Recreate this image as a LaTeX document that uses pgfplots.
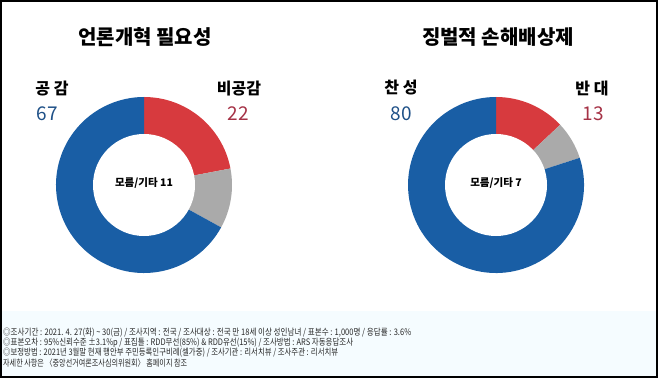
\documentclass[border=0pt]{standalone}
\usepackage{pgfplots}
\usepackage{pgfplotstable}
\pgfplotsset{compat=1.18}
\usepackage{graphicx}
\usepackage{fontspec}
\setmainfont{Noto Sans CJK KR}
\newfontfamily\footfont[FakeStretch=0.84]{Noto Sans CJK KR}

\definecolor{cblue}{RGB}{25,94,165}
\definecolor{cred}{RGB}{215,58,62}
\definecolor{cgray}{RGB}{170,170,170}
\definecolor{numblue}{RGB}{30,80,135}
\definecolor{numred}{RGB}{165,50,70}
\definecolor{footbg}{RGB}{245,252,255}
\definecolor{foottext}{RGB}{40,40,40}

% Data: 언론개혁 필요성
\pgfplotstableread{
label value
agree 67
disagree 22
other 11
}\tableA
% Data: 징벌적 손해배상제
\pgfplotstableread{
label value
agree 80
disagree 13
other 7
}\tableB

\pgfplotstablegetelem{1}{value}\of\tableA \edef\Ared{\pgfplotsretval}
\pgfplotstablegetelem{2}{value}\of\tableA \edef\Agray{\pgfplotsretval}
\pgfplotstablegetelem{1}{value}\of\tableB \edef\Bred{\pgfplotsretval}
\pgfplotstablegetelem{2}{value}\of\tableB \edef\Bgray{\pgfplotsretval}
\pgfmathsetmacro\Aa{90-3.6*\Ared}
\pgfmathsetmacro\Ab{\Aa-3.6*\Agray}
\pgfmathsetmacro\Ba{90-3.6*\Bred}
\pgfmathsetmacro\Bb{\Ba-3.6*\Bgray}

\newcommand\titlef{\fontsize{20bp}{24bp}\selectfont\bfseries}
\newcommand\labf{\fontsize{16bp}{19bp}\selectfont\bfseries}
\newcommand\numf{\fontsize{19bp}{22bp}\selectfont}
\newcommand\cenf{\fontsize{10.5bp}{12bp}\selectfont\bfseries}
\newcommand\footf{\footfont\fontsize{9bp}{10bp}\selectfont}

\pgfplotsset{donut/.style={anchor=center, scale only axis,
  width=176bp, height=176bp, xmin=-88, xmax=88, ymin=-88, ymax=88,
  hide axis, clip=false}}

\begin{document}
\begin{tikzpicture}
\begin{scope}[x=1bp,y=1bp]
\useasboundingbox (0,0) rectangle (658,378);
\fill[footbg] (1,1) rectangle (657,67);
\end{scope}

\begin{axis}[donut, at={(144bp,193bp)}]
  \fill[cred] (axis cs:0,0) -- ++(90:88bp) arc[start angle=90, end angle=\Aa, radius=88bp] -- cycle;
  \fill[cgray] (axis cs:0,0) -- ++(\Aa:88bp) arc[start angle=\Aa, end angle=\Ab, radius=88bp] -- cycle;
  \fill[cblue] (axis cs:0,0) -- ++(\Ab:88bp) arc[start angle=\Ab, end angle=-270, radius=88bp] -- cycle;
  \fill[white] (axis cs:0,0) circle[radius=51bp];
\end{axis}

\begin{axis}[donut, at={(496bp,193bp)}]
  \fill[cred] (axis cs:0,0) -- ++(90:88bp) arc[start angle=90, end angle=\Ba, radius=88bp] -- cycle;
  \fill[cgray] (axis cs:0,0) -- ++(\Ba:88bp) arc[start angle=\Ba, end angle=\Bb, radius=88bp] -- cycle;
  \fill[cblue] (axis cs:0,0) -- ++(\Bb:88bp) arc[start angle=\Bb, end angle=-270, radius=88bp] -- cycle;
  \fill[white] (axis cs:0,0) circle[radius=51bp];
\end{axis}

\begin{scope}[x=1bp,y=1bp]
\node[inner sep=0, font=\titlef] at (145,341) {언론개혁 필요성};
\node[inner sep=0, font=\titlef] at (498,341) {징벌적 손해배상제};

\node[inner sep=0, font=\labf] at (52,289.5) {공 감};
\node[inner sep=0, font=\numf, text=numblue] at (47,264) {67};
\node[inner sep=0, font=\labf] at (239,289.5) {비공감};
\node[inner sep=0, font=\numf, text=numred] at (238,264) {22};

\node[inner sep=0, font=\labf] at (401,290) {찬 성};
\node[inner sep=0, font=\numf, text=numblue] at (401,264) {80};
\node[inner sep=0, font=\labf] at (592,290) {반 대};
\node[inner sep=0, font=\numf, text=numred] at (593,264) {13};

\node[inner sep=0, font=\cenf] at (144,195) {모름/기타 11};
\node[inner sep=0, font=\cenf] at (496,195) {모름/기타 7};

\begin{scope}[every node/.style={inner sep=0, anchor=west, font=\footf, text=foottext}]
\node at (3,45) {\resizebox{408bp}{\height}{◎조사기간 : 2021. 4. 27(화) \textasciitilde{} 30(금) / 조사지역 : 전국 / 조사대상 : 전국 만 18세 이상 성인남녀 / 표본수 : 1,000명 / 응답률 : 3.6\%}};
\node at (3,35) {\resizebox{350bp}{\height}{◎표본오차 : 95\%신뢰수준 ±3.1\%p / 표집틀 : RDD무선(85\%) \& RDD유선(15\%) / 조사방법 : ARS 자동응답조사}};
\node at (3,25) {\resizebox{335bp}{\height}{◎보정방법 : 2021년 3월말 현재 행안부 주민등록인구비례(셀가중) / 조사기관 : 리서치뷰 / 조사주관 : 리서치뷰}};
\node at (3,15) {\resizebox{184bp}{\height}{자세한 사항은 〈중앙선거여론조사심의위원회〉 홈페이지 참조}};
\end{scope}

\draw[black, line width=1.6bp] (1,1) rectangle (657,377);
\end{scope}
\end{tikzpicture}
\end{document}
